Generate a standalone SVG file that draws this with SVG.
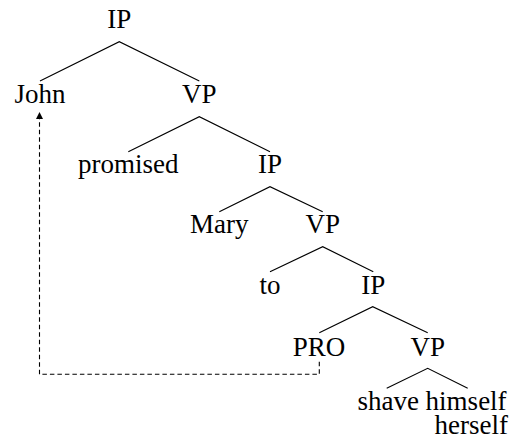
<svg xmlns="http://www.w3.org/2000/svg" width="510" height="446" viewBox="0 0 510 446">
<style>
#nodes text{font-family:'Liberation Serif',serif;font-size:27px;fill:#000;text-anchor:middle}
#nodes text.r{text-anchor:end}
.e{stroke:#000;stroke-width:1.1;fill:none}
.d{stroke:#000;stroke-width:1.1;fill:none;stroke-dasharray:4.5,3}
</style>
<defs>
<marker id="ah" viewBox="0 0 10 10" refX="10" refY="5" markerWidth="7" markerHeight="7" markerUnits="userSpaceOnUse" orient="auto">
<path d="M0,0 L10,5 L0,10 Z" fill="#000"/>
</marker>
</defs>
<g id="connectors">
<path class="e" d="M40,81 L119.3,41.7 L199.3,81"/>
<path class="e" d="M128.3,151.7 L199.3,116.7 L270,151.7"/>
<path class="e" d="M219.3,211.7 L270,186.7 L322.7,211.7"/>
<path class="e" d="M270,271.7 L322.7,246.7 L373.3,271.7"/>
<path class="e" d="M319.3,332.7 L372.7,306.7 L427.7,332.7"/>
<path class="e" d="M386.7,388.3 L427.7,368.3 L467.7,388.3"/>
<path class="d" d="M319.3,361.7 L319.3,374.3 L39.5,374.3 L39.5,112" marker-end="url(#ah)"/>
</g>
<g id="nodes">
<g id="n-ip1"><text x="119.3" y="28.3">IP</text></g>
<g id="n-john"><text x="40" y="103">John</text></g>
<g id="n-vp1"><text x="199.3" y="103">VP</text></g>
<g id="n-promised"><text x="128.3" y="173.3">promised</text></g>
<g id="n-ip2"><text x="270" y="173.3">IP</text></g>
<g id="n-mary"><text x="219.3" y="233.3">Mary</text></g>
<g id="n-vp2"><text x="322.7" y="233.3">VP</text></g>
<g id="n-to"><text x="270" y="294">to</text></g>
<g id="n-ip3"><text x="373.3" y="294">IP</text></g>
<g id="n-pro"><text x="319" y="356">PRO</text></g>
<g id="n-vp3"><text x="427.7" y="356">VP</text></g>
<g id="n-leaf"><text x="432" y="410">shave himself</text><text class="r" x="508" y="434">herself</text></g>
</g>
</svg>
